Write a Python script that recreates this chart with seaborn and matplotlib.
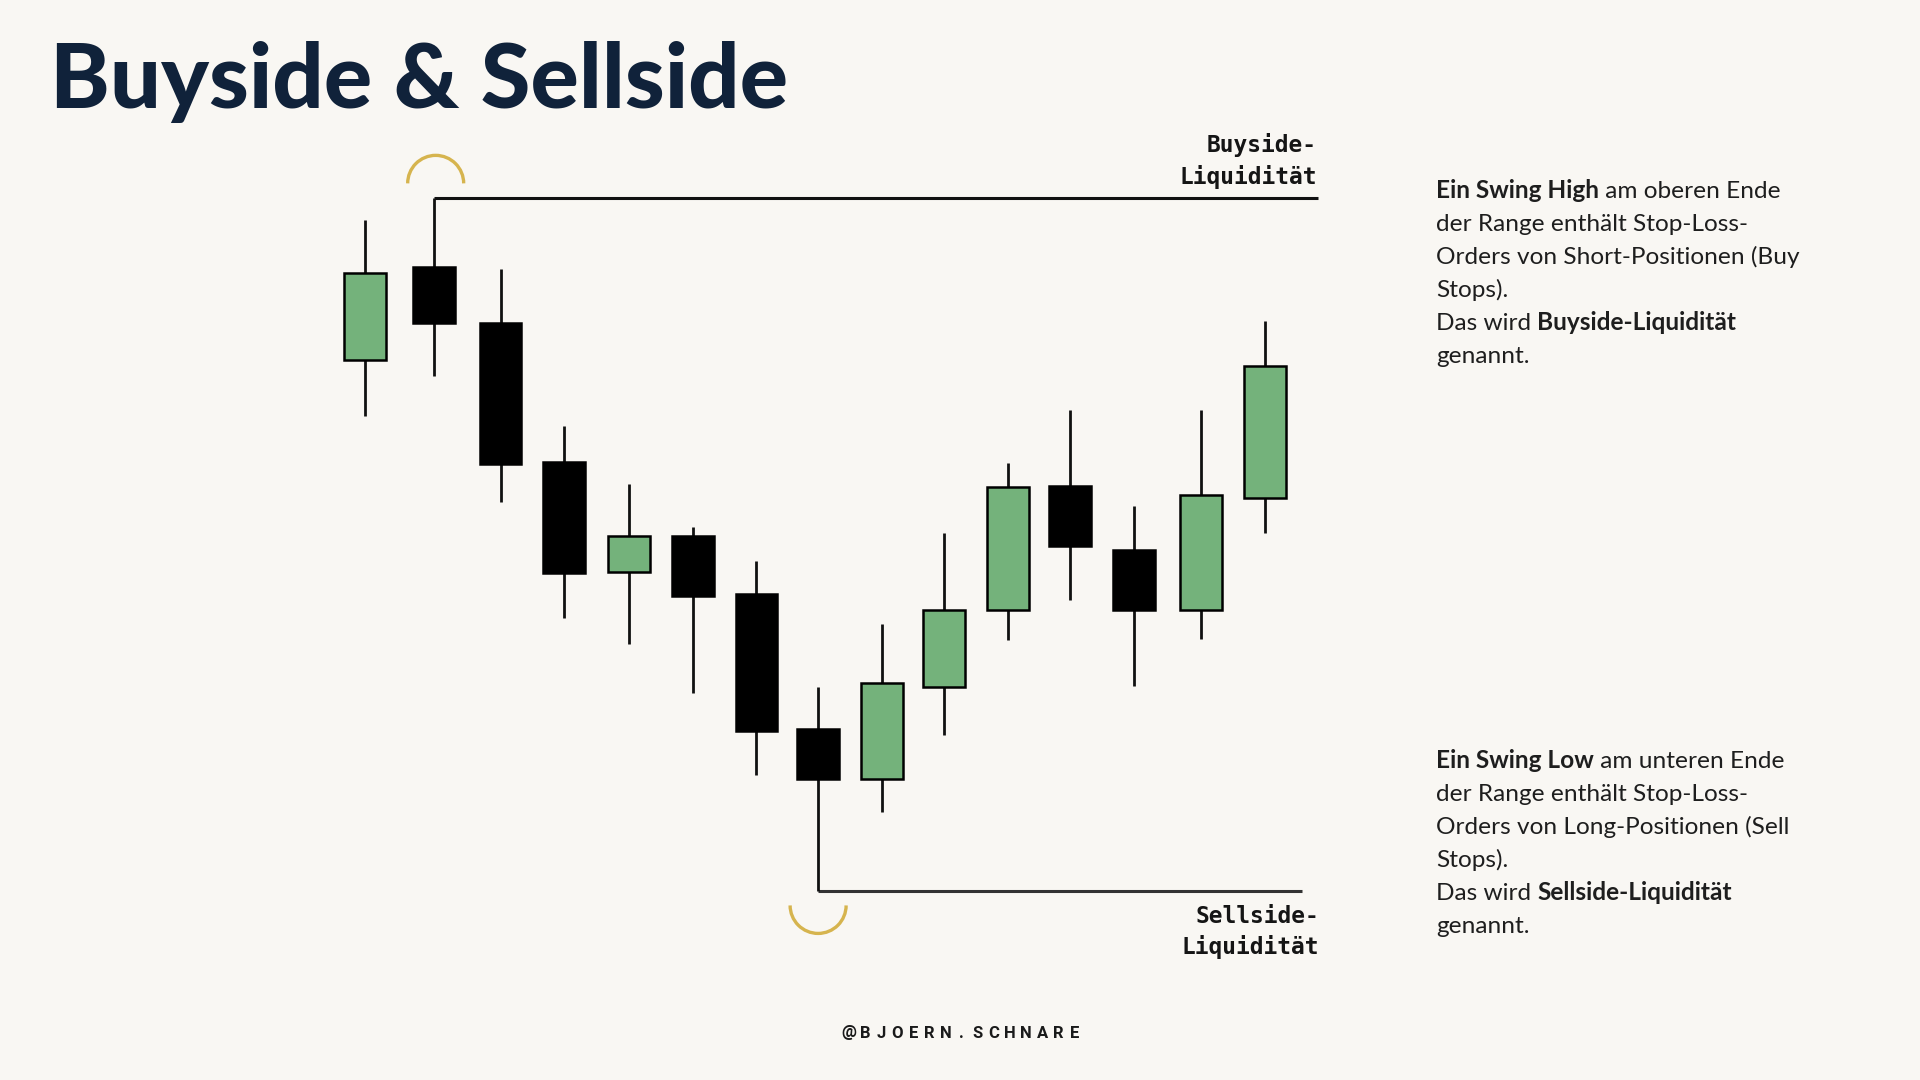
"""Buyside & Sellside liquidity sketch, candlesticks with swing high/low lines."""
import matplotlib.pyplot as plt
import numpy as np
import pandas as pd
import seaborn as sns
from matplotlib.patches import Arc
from matplotlib.transforms import IdentityTransform

# candle data (arbitrary time / price units)
candle_t = [0.0, 1.07, 2.11, 3.10, 4.11, 5.10, 6.09, 7.05, 8.04, 9.01, 10.0, 10.97, 11.96, 13.0, 14.0]
opens = [58.8, 66.4, 61.8, 50.5, 41.5, 44.4, 39.7, 28.7, 24.6, 32.1, 38.4, 48.5, 43.3, 38.4, 47.5]
closes = [65.9, 61.8, 50.3, 41.4, 44.4, 39.5, 28.5, 24.6, 32.4, 38.4, 48.4, 43.6, 38.4, 47.8, 58.3]
highs = [70.2, 72.0, 66.2, 53.4, 48.7, 45.2, 42.4, 32.1, 37.2, 44.7, 50.4, 54.7, 46.9, 54.7, 62.0]
lows = [54.2, 57.5, 47.2, 37.7, 35.6, 31.6, 24.9, 15.4, 21.9, 28.2, 35.9, 39.2, 32.2, 36.0, 44.7]

title = "Buyside & Sellside"
buy_label = "Buyside-\nLiquidität"
sell_label = "Sellside-\nLiquidität"
footer = "@BJOERN.SCHNARE"
buy_text = [
    [("Ein Swing High", True), (" am oberen Ende", False)],
    [("der Range enthält Stop-Loss-", False)],
    [("Orders von Short-Positionen (Buy", False)],
    [("Stops).", False)],
    [("Das wird ", False), ("Buyside-Liquidität", True)],
    [("genannt.", False)],
]
sell_text = [
    [("Ein Swing Low", True), (" am unteren Ende", False)],
    [("der Range enthält Stop-Loss-", False)],
    [("Orders von Long-Positionen (Sell", False)],
    [("Stops).", False)],
    [("Das wird ", False), ("Sellside-Liquidität", True)],
    [("genannt.", False)],
]

BG = "#F9F7F3"
GREEN = "#74B27B"
GOLD = "#D6B44E"
NAVY = "#10223A"
TEXT = "#1E1E1E"
W, H = 1920, 1080

sns.set_theme(style="white")
plt.rcParams["font.family"] = ["Lato", "DejaVu Sans"]

df = pd.DataFrame({"t": candle_t, "open": opens, "close": closes,
                   "high": highs, "low": lows})
df["up"] = df["close"] > df["open"]
df["bottom"] = df[["open", "close"]].min(axis=1)
df["height"] = (df["close"] - df["open"]).abs()

fig = plt.figure(figsize=(19.2, 10.8), dpi=100, facecolor=BG)
ax = fig.add_axes([0, 0, 1, 1])
ax.set_facecolor("none")
ax.set_xlim(-5.676, 24.19)
ax.set_ylim(0, 88.2)
ax.axis("off")

# wicks then bodies
ax.vlines(df["t"], df["low"], df["high"], color="#111111", lw=2.0, zorder=2)
ax.bar(df["t"], df["height"], bottom=df["bottom"], width=0.65,
       color=np.where(df["up"], GREEN, "black"), edgecolor="black",
       linewidth=1.8, zorder=3)

# swing high / swing low liquidity lines
hi = df["high"].idxmax()
lo = df["low"].idxmin()
ax.hlines(df.loc[hi, "high"], df.loc[hi, "t"], 14.82, color="#111111", lw=2.2, zorder=1)
ax.hlines(df.loc[lo, "low"], df.loc[lo, "t"], 14.57, color="#333333", lw=2.2, zorder=1)

# gold arcs marking the swing points (drawn in pixels so they stay round)
hx, hy = ax.transData.transform((df.loc[hi, "t"], df.loc[hi, "high"]))
lx, ly = ax.transData.transform((df.loc[lo, "t"], df.loc[lo, "low"]))
ax.add_patch(Arc((hx + 2, hy + 15), 56, 56, theta1=0, theta2=180, color=GOLD,
                 lw=2.4, transform=IdentityTransform(), clip_on=False))
ax.add_patch(Arc((lx, ly - 14), 56, 56, theta1=180, theta2=360, color=GOLD,
                 lw=2.4, transform=IdentityTransform(), clip_on=False))

# texts
fig.text(50 / W, 1 - 108 / H, title, fontsize=65, fontweight="black",
         color=NAVY, va="baseline", ha="left")

mono = ["DejaVu Sans Mono"]
fig.text(1317 / W, 1 - 161 / H, buy_label, family=mono, fontsize=16.5, fontweight="bold",
         ha="right", va="center", multialignment="right", linespacing=1.38, color="#151515")
fig.text(1319 / W, 1 - 932 / H, sell_label, family=mono, fontsize=16.5, fontweight="bold",
         ha="right", va="center", multialignment="right", linespacing=1.38, color="#151515")

renderer = fig.canvas.get_renderer()


def rich_block(x0, y0, lines, size=17.6, step=33):
    for k, parts in enumerate(lines):
        x = x0
        y = H - (y0 + k * step)
        for txt, bold in parts:
            t = fig.text(x / W, y / H, txt, fontsize=size, color=TEXT,
                         fontweight="bold" if bold else "normal", va="baseline")
            x = t.get_window_extent(renderer=renderer).x1


rich_block(1436, 198, buy_text)
rich_block(1436, 768, sell_text)

# letter-spaced footer
fx0, fstep = 849, 16.1
for k, ch in enumerate(footer):
    fig.text((fx0 + k * fstep) / W, 1 - 1033 / H, ch, family=["Roboto", "DejaVu Sans"],
             fontsize=12, fontweight="bold", color="#1A1A1A", ha="center", va="center")

fig.savefig("out.png", dpi=100, facecolor=BG)
